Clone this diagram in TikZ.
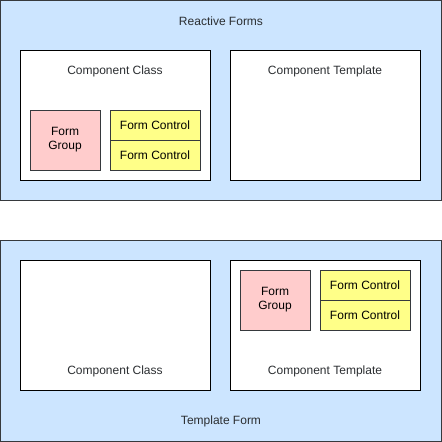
\documentclass[tikz,border=0pt]{standalone}
\usepackage{fontspec}
\setmainfont{Liberation Sans}
\definecolor{formblue}{HTML}{CCE5FF}
\definecolor{formpink}{HTML}{FFCCCC}
\definecolor{formyellow}{HTML}{FFFF88}
\definecolor{formline}{HTML}{36393D}
\usetikzlibrary{positioning}
\newcommand{\diafont}{\fontsize{12}{14}\selectfont}
\tikzset{
    outerbox/.style={rectangle, draw=formline, fill=formblue, line width=1pt,
                     inner sep=0pt, outer sep=0pt, minimum width=441pt},
    partbox/.style={rectangle, draw=black, fill=white, line width=1pt,
                    inner sep=0pt, outer sep=0pt, minimum width=190pt, minimum height=130pt},
    groupbox/.style={rectangle, draw=formline, fill=formpink, line width=1pt, inner sep=0pt,
                     outer sep=0pt, minimum width=70pt, minimum height=60pt, align=center, font=\diafont},
    controlbox/.style={rectangle, draw=formline, fill=formyellow, line width=1pt, inner sep=0pt,
                       outer sep=0pt, minimum width=90pt, minimum height=30pt, font=\diafont},
    caption/.style={inner sep=0pt, font=\diafont, text=formline!80!black},
}

\begin{document}
\begin{tikzpicture}[x=1pt, y=-1pt]
    \useasboundingbox (0,0) rectangle (442,442);

    % reactive forms
    \node[outerbox, minimum height=200pt] (reactive) at (221, 100.5) {};
    \node[caption] (reactivelabel) at (221, 21) {Reactive Forms};
    \node[partbox] (rclass) at (115, 115) {};
    \node[caption] (rclasslabel) at (115, 71) {Component Class};
    \node[partbox] (rtemplate) at (325, 115) {};
    \node[caption] (rtemplatelabel) at (325, 71) {Component Template};
    \node[groupbox] (rgroup) at (65, 140) {Form\\Group};
    \node[controlbox] (rcontrola) at (155, 125) {Form Control};
    \node[controlbox, below=0pt of rcontrola] (rcontrolb) {Form Control};

    % template form
    \node[outerbox, minimum height=201pt] (template) at (221, 341) {};
    \node[caption] (templatelabel) at (221, 421) {Template Form};
    \node[partbox] (tclass) at (115, 325) {};
    \node[caption] (tclasslabel) at (115, 371) {Component Class};
    \node[partbox] (ttemplate) at (325, 325) {};
    \node[caption] (ttemplatelabel) at (325, 371) {Component Template};
    \node[groupbox] (tgroup) at (275, 300) {Form\\Group};
    \node[controlbox] (tcontrola) at (365, 285) {Form Control};
    \node[controlbox, below=0pt of tcontrola] (tcontrolb) {Form Control};
\end{tikzpicture}
\end{document}
